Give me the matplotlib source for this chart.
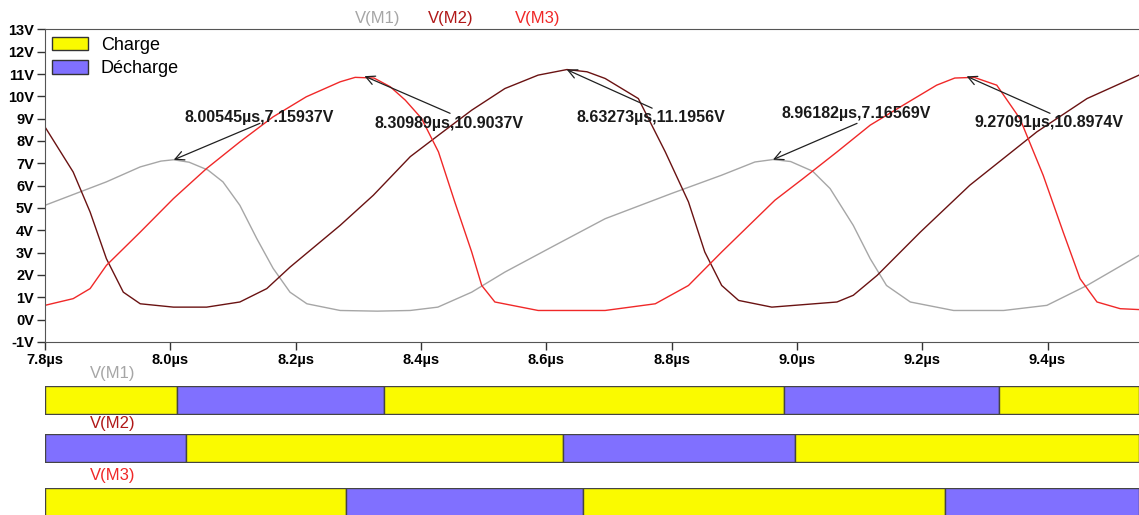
import matplotlib.pyplot as plt
from matplotlib.patches import Patch

t_m1 = [7.80, 7.898, 7.952, 7.985, 8.005, 8.030, 8.060, 8.084, 8.111, 8.138, 8.164, 8.191, 8.218, 8.271,
        8.33, 8.383, 8.427, 8.481, 8.534, 8.614, 8.694, 8.800, 8.880, 8.933, 8.962, 8.990, 9.025, 9.053,
        9.090, 9.117, 9.143, 9.181, 9.250, 9.330, 9.399, 9.463, 9.546]
v_m1 = [5.12, 6.17, 6.84, 7.10, 7.16, 7.05, 6.70, 6.17, 5.12, 3.63, 2.30, 1.23, 0.71, 0.41,
        0.38, 0.41, 0.56, 1.23, 2.13, 3.33, 4.52, 5.65, 6.47, 7.06, 7.17, 7.08, 6.65, 5.87,
        4.22, 2.73, 1.53, 0.79, 0.41, 0.41, 0.64, 1.53, 2.88]

t_m2 = [7.80, 7.845, 7.872, 7.898, 7.925, 7.952, 8.005, 8.058, 8.111, 8.154, 8.191, 8.271, 8.324, 8.383,
        8.428, 8.481, 8.534, 8.587, 8.633, 8.665, 8.694, 8.747, 8.790, 8.827, 8.853, 8.880, 8.907, 8.960,
        9.064, 9.090, 9.128, 9.197, 9.276, 9.383, 9.463, 9.546]
v_m2 = [8.63, 6.61, 4.82, 2.73, 1.23, 0.71, 0.56, 0.56, 0.79, 1.39, 2.35, 4.22, 5.57, 7.30,
        8.26, 9.38, 10.35, 10.95, 11.20, 11.10, 10.80, 9.90, 7.51, 5.27, 3.03, 1.53, 0.86, 0.56,
        0.79, 1.09, 1.98, 3.92, 6.02, 8.41, 9.90, 10.95]

t_m3 = [7.80, 7.845, 7.872, 7.898, 7.952, 8.005, 8.058, 8.111, 8.164, 8.217, 8.271, 8.295, 8.325, 8.351,
        8.375, 8.401, 8.428, 8.454, 8.481, 8.497, 8.518, 8.587, 8.694, 8.774, 8.827, 8.880, 8.965, 9.010,
        9.064, 9.117, 9.170, 9.223, 9.252, 9.283, 9.319, 9.356, 9.393, 9.425, 9.452, 9.479, 9.516, 9.546]
v_m3 = [0.64, 0.94, 1.39, 2.43, 3.92, 5.42, 6.77, 7.96, 9.08, 9.98, 10.65, 10.85, 10.82, 10.43,
        9.83, 9.01, 7.51, 5.27, 3.03, 1.53, 0.79, 0.41, 0.41, 0.71, 1.53, 3.03, 5.35, 6.32,
        7.51, 8.71, 9.61, 10.50, 10.82, 10.85, 10.50, 9.00, 6.47, 3.92, 1.83, 0.79, 0.49, 0.45]

# Curseurs (maxima)
peak_t = [8.00545, 8.30989, 8.63273, 8.96182, 9.27091]
peak_v = [7.15937, 10.9037, 11.1956, 7.16569, 10.8974]
label_t = [8.1416, 8.445, 8.767, 9.094, 9.4026]
label_v = [9.07, 8.79, 9.06, 9.24, 8.84]
tail_t = [8.143, 8.4465, 8.769, 9.096, 9.404]
tail_v = [8.79, 9.24, 9.47, 8.79, 9.24]

# Phases charge / décharge : instants de basculement
m1_switch = [8.011, 8.341, 8.980, 9.323]
m2_switch = [8.025, 8.627, 8.997]
m3_switch = [8.281, 8.658, 9.237]
first_state = ["Charge", "Décharge", "Charge"]

T_MIN, T_MAX = 7.8, 9.546
x_ticks = [7.8, 8.0, 8.2, 8.4, 8.6, 8.8, 9.0, 9.2, 9.4]
y_ticks = list(range(-1, 14))

C_M1, C_M2, C_M3 = "#a6a6a6", "#6a1212", "#f02828"
LBL_M2 = "#b01818"
YELLOW, BLUE = "#fafa00", "#8070ff"
BOLD = dict(family=["Liberation Sans", "DejaVu Sans"], weight="bold")
REG = ["Liberation Sans", "DejaVu Sans"]

fig = plt.figure(figsize=(11.39, 5.15), dpi=100)
ax = fig.add_axes([0.0395, 0.336, 0.9605, 0.607])

ax.plot(t_m1, v_m1, color=C_M1, lw=1.0)
ax.plot(t_m2, v_m2, color=C_M2, lw=1.0)
ax.plot(t_m3, v_m3, color=C_M3, lw=1.0)

for pt, pv, lt, lv, tt, tv in zip(peak_t, peak_v, label_t, label_v, tail_t, tail_v):
    ax.annotate("", xy=(pt, pv), xytext=(tt, tv),
                arrowprops=dict(arrowstyle="->", color="#202020", lw=0.9,
                                mutation_scale=16, shrinkA=0, shrinkB=0))
    ax.text(lt, lv, f"{pt:.5f}µs,{pv:g}V", ha="center", va="center",
            fontsize=11.5, color="#1a1a1a", **BOLD)

ax.set_xlim(T_MIN, T_MAX)
ax.set_ylim(-1, 13)
ax.set_xticks(x_ticks)
ax.set_xticklabels([f"{t:.1f}µs" for t in x_ticks], fontsize=10.5, **BOLD)
ax.set_yticks(y_ticks)
ax.set_yticklabels([f"{v}V" for v in y_ticks], fontsize=10.5, **BOLD)
ax.tick_params(direction="out", length=6, width=1, color="#333333", pad=2)
ax.spines["right"].set_visible(False)
for s in ["left", "bottom", "top"]:
    ax.spines[s].set_color("#555555")

# Légende
handles = [Patch(facecolor=YELLOW, edgecolor="#333333", label="Charge"),
           Patch(facecolor=BLUE, edgecolor="#333333", label="Décharge")]
ax.legend(handles=handles, loc="upper left", bbox_to_anchor=(0.0, 1.0), frameon=False,
          prop=dict(family=REG, size=13), handlelength=2.0, handleheight=0.8,
          handletextpad=0.7, labelspacing=0.35, borderaxespad=0.3, borderpad=0.1)

# Noms des traces en haut
fig.text(0.312, 0.965, "V(M1)", color=C_M1, fontsize=12, family=REG, va="center")
fig.text(0.376, 0.965, "V(M2)", color=LBL_M2, fontsize=12, family=REG, va="center")
fig.text(0.452, 0.965, "V(M3)", color=C_M3, fontsize=12, family=REG, va="center")

# Barres charge / décharge
rows = [(m1_switch, first_state[0], 0.196, "V(M1)", C_M1, 0.274),
        (m2_switch, first_state[1], 0.1023, "V(M2)", LBL_M2, 0.177),
        (m3_switch, first_state[2], -0.02, "V(M3)", C_M3, 0.0763)]
for switch, state, bottom, name, col, label_y in rows:
    bax = fig.add_axes([0.0395, bottom, 0.9605, 0.055 if bottom > 0 else 0.073], sharex=ax)
    edges = [T_MIN] + switch + [T_MAX]
    for i in range(len(edges) - 1):
        charge = (i % 2 == 0) == (state == "Charge")
        bax.broken_barh([(edges[i], edges[i + 1] - edges[i])], (0, 1),
                        facecolor=YELLOW if charge else BLUE, edgecolor="#444444", lw=1.0)
    bax.set_ylim(0, 1)
    bax.axis("off")
    fig.text(0.079, label_y, name, color=col, fontsize=12, family=REG, va="center")

ax.set_xlim(T_MIN, T_MAX)
fig.savefig("out.png", dpi=100)
